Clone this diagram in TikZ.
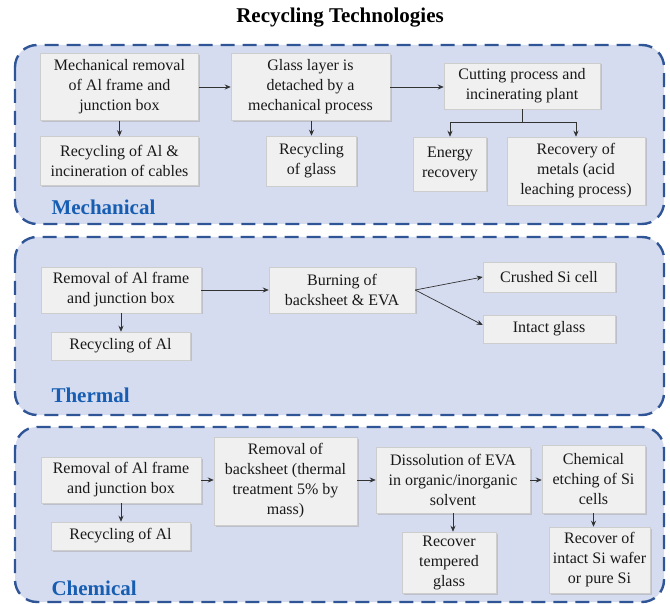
\documentclass[tikz,border=0pt]{standalone}
\usepackage{fontspec}
\setmainfont{Liberation Serif}
\usetikzlibrary{shadows,arrows.meta,calc}
\definecolor{panelfill}{RGB}{213,220,240}
\definecolor{paneldraw}{RGB}{47,85,151}
\definecolor{labelblue}{RGB}{23,94,178}
\definecolor{boxfill}{RGB}{240,240,240}
\definecolor{boxdraw}{RGB}{205,205,205}
\definecolor{arrowc}{RGB}{50,50,50}
\begin{document}
\begin{tikzpicture}[x=1pt,y=-1pt,
 panel/.style={draw=paneldraw, fill=panelfill, line width=2.4pt, dash pattern=on 14pt off 8pt, rounded corners=22pt},
 box/.style={draw=boxdraw, line width=0.5pt, fill=boxfill, align=center, inner sep=2pt, font=\fontsize{16}{20}\selectfont, text=black!90, drop shadow={shadow xshift=1.5pt, shadow yshift=-1.5pt, fill=black!35, opacity=0.5}},
 lbl/.style={anchor=west, text=labelblue, font=\fontsize{21}{25}\selectfont\bfseries},
 arr/.style={draw=arrowc, line width=0.7pt, -{Stealth[length=6pt,width=5pt]}},
 ln/.style={draw=arrowc, line width=0.7pt}]
\useasboundingbox (0,0) rectangle (670,604);
\fill[white] (0,0) rectangle (670,604);

\node[font=\fontsize{21}{25}\selectfont\bfseries] (title) at (340,18) {Recycling Technologies};

% panels
\draw[panel] (15,45) rectangle (664,224);
\draw[panel] (15,237) rectangle (664,415);
\draw[panel] (15,427) rectangle (664,602);

\node[lbl] (lm) at (48,207) {Mechanical};
\node[lbl] (lt) at (48,395) {Thermal};
\node[lbl] (lc) at (48,588) {Chemical};

% Mechanical
\node[box, minimum width=158pt, minimum height=67pt] (m1) at (119.5,87) {Mechanical removal\\of Al frame and\\junction box};
\node[box, minimum width=159pt, minimum height=67pt] (m2) at (310.5,87) {Glass layer is\\detached by a\\mechanical process};
\node[box, minimum width=156pt, minimum height=46pt] (m3) at (522,86) {Cutting process and\\incinerating plant};
\node[box, minimum width=158pt, minimum height=49pt] (m4) at (119.5,161) {Recycling of Al \&\\incineration of cables};
\node[box, minimum width=90pt, minimum height=50pt] (m5) at (311.5,161) {Recycling\\of glass};
\node[box, minimum width=73pt, minimum height=54pt] (m6) at (450,164) {Energy\\recovery};
\node[box, minimum width=138pt, minimum height=68pt] (m7) at (576,171) {Recovery of\\metals (acid\\leaching process)};
\coordinate (br) at ($(m3.south)+(0,13)$);

\draw[arr] (m1) -- (m2);
\draw[arr] (m2.east) -- (m2.east -| m3.west);
\draw[arr] (m1.south) -- (m4.north);
\draw[arr] (m2.south -| m5.north) -- (m5.north);
\draw[ln] (m3.south) -- (br);
\draw[arr] (br) -| (m6.north);
\draw[arr] (br) -| (m7.north);

% Thermal
\node[box, minimum width=160pt, minimum height=46pt] (t1) at (121,290) {Removal of Al frame\\and junction box};
\node[box, minimum width=146pt, minimum height=46pt] (t2) at (342,290) {Burning of\\backsheet \& EVA};
\node[box, minimum width=132pt, minimum height=30pt] (t3) at (549,277) {Crushed Si cell};
\node[box, minimum width=132pt, minimum height=28pt] (t4) at (549,329) {Intact glass};
\node[box, minimum width=139pt, minimum height=28pt] (t5) at (120.5,346) {Recycling of Al};

\draw[arr] (t1) -- (t2);
\draw[arr] (t2.east) -- (t3.west);
\draw[arr] (t2.east) -- ($(t4.west)+(0,-4)$);
\draw[arr] (t1.south) -- (t1.south |- t5.north);

% Chemical
\node[box, minimum width=160pt, minimum height=46pt] (c1) at (121,480) {Removal of Al frame\\and junction box};
\node[box, minimum width=143pt, minimum height=88pt] (c2) at (285.5,481) {Removal of\\backsheet (thermal\\treatment 5\% by\\mass)};
\node[box, minimum width=154pt, minimum height=66pt] (c3) at (453,480) {Dissolution of EVA\\in organic/inorganic\\solvent};
\node[box, minimum width=103pt, minimum height=68pt] (c4) at (593.5,479) {Chemical\\etching of Si\\cells};
\node[box, minimum width=139pt, minimum height=28pt] (c5) at (120.5,536) {Recycling of Al};
\node[box, minimum width=94pt, minimum height=61pt] (c6) at (449,562.5) {Recover\\tempered\\glass};
\node[box, minimum width=101pt, minimum height=66pt] (c7) at (599.5,560) {Recover of\\intact Si wafer\\or pure Si};

\draw[arr] (c1.east) -- (c1.east -| c2.west);
\draw[arr] (c2.east |- c3.west) -- (c3.west);
\draw[arr] (c3.east) -- (c3.east -| c4.west);
\draw[arr] (c1.south) -- (c1.south |- c5.north);
\draw[arr] (c3.south) -- (c3.south |- c6.north);
\draw[arr] (c4.south) -- (c4.south |- c7.north);
\end{tikzpicture}
\end{document}
